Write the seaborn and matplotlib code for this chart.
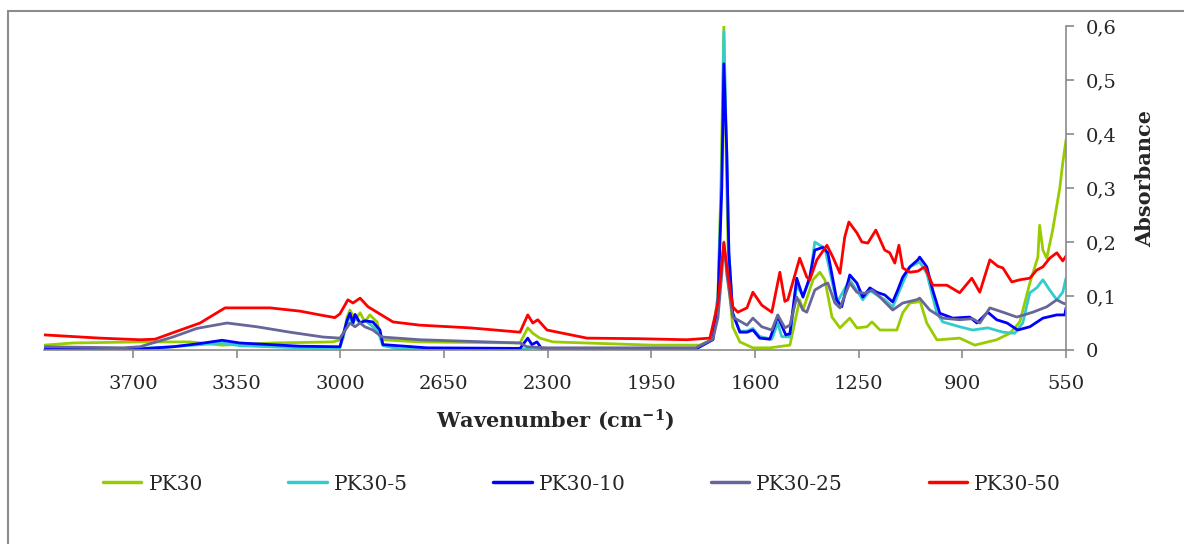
import numpy as np
import pandas as pd
import matplotlib
matplotlib.use("Agg")
import matplotlib.pyplot as plt
import seaborn as sns
from matplotlib.lines import Line2D
from matplotlib.patches import Rectangle

# ---------------- data ----------------
series_names = ["PK30", "PK30-5", "PK30-10", "PK30-25", "PK30-50"]
series_colors = ["#99CC00", "#33CCCC", "#0000FF", "#666699", "#FF0000"]

pk30_wn = [4000, 3902, 3676, 3507, 3399, 3227, 3025, 2991, 2977, 2967,
           2950, 2933, 2917, 2900, 2876, 2859, 2731, 2393, 2367, 2350,
           2326, 2282, 1945, 1786, 1746, 1725, 1715, 1705, 1697, 1688,
           1675, 1651, 1607, 1550, 1482, 1466, 1449, 1438, 1404, 1381,
           1364, 1340, 1313, 1280, 1256, 1222, 1205, 1178, 1121, 1101,
           1077, 1050, 1044, 1020, 986, 976, 909, 858, 784, 739,
           706, 672, 645, 639, 628, 615, 595, 571, 561, 550]
pk30_abs = [0.009, 0.013, 0.015, 0.015, 0.009, 0.013, 0.015, 0.02, 0.061, 0.074,
            0.056, 0.069, 0.052, 0.065, 0.052, 0.019, 0.015, 0.013, 0.041, 0.031,
            0.022, 0.015, 0.009, 0.009, 0.019, 0.10, 0.30, 0.60, 0.35, 0.12,
            0.043, 0.015, 0.004, 0.004, 0.009, 0.05, 0.093, 0.074, 0.13, 0.144,
            0.13, 0.061, 0.041, 0.059, 0.041, 0.043, 0.052, 0.037, 0.037, 0.069,
            0.087, 0.089, 0.093, 0.05, 0.019, 0.019, 0.022, 0.009, 0.019, 0.031,
            0.052, 0.124, 0.172, 0.231, 0.185, 0.17, 0.222, 0.30, 0.346, 0.389]

pk30_5_wn = [4000, 3676, 3565, 3399, 3339, 3136, 3001, 2977, 2967, 2957,
             2950, 2933, 2917, 2900, 2873, 2856, 2800, 2370, 2350, 2330,
             1800, 1742, 1725, 1712, 1705, 1697, 1688, 1675, 1651, 1627,
             1607, 1584, 1543, 1523, 1510, 1482, 1459, 1438, 1415, 1398,
             1381, 1364, 1324, 1280, 1236, 1212, 1162, 1135, 1101, 1077,
             1044, 1020, 986, 966, 909, 865, 814, 763, 723, 696,
             672, 649, 628, 605, 581, 561, 550]
pk30_5_abs = [0.002, 0.003, 0.006, 0.013, 0.008, 0.004, 0.004, 0.05, 0.062, 0.048,
              0.06, 0.05, 0.055, 0.048, 0.035, 0.008, 0.002, 0.002, 0.005, 0.002,
              0.001, 0.02, 0.1, 0.33, 0.59, 0.40, 0.18, 0.068, 0.035, 0.035,
              0.04, 0.025, 0.02, 0.05, 0.025, 0.024, 0.12, 0.1, 0.13, 0.2,
              0.194, 0.189, 0.087, 0.13, 0.093, 0.11, 0.093, 0.08, 0.124, 0.154,
              0.163, 0.142, 0.068, 0.052, 0.043, 0.037, 0.041, 0.033, 0.031, 0.05,
              0.106, 0.115, 0.13, 0.111, 0.093, 0.107, 0.133]

pk30_10_wn = [4000, 3676, 3565, 3473, 3399, 3339, 3136, 3001, 2977, 2967,
              2957, 2950, 2933, 2917, 2890, 2866, 2856, 2707, 2393, 2367,
              2353, 2336, 2319, 1800, 1742, 1725, 1712, 1705, 1695, 1688,
              1675, 1651, 1627, 1607, 1584, 1550, 1523, 1496, 1482, 1459,
              1438, 1415, 1398, 1371, 1354, 1324, 1307, 1280, 1256, 1236,
              1212, 1189, 1162, 1135, 1118, 1101, 1077, 1050, 1044, 1020,
              1000, 976, 932, 875, 851, 814, 784, 749, 713, 672,
              628, 581, 554, 550]
pk30_10_abs = [0.001, 0.002, 0.006, 0.012, 0.018, 0.013, 0.007, 0.006, 0.055, 0.068,
               0.05, 0.066, 0.05, 0.054, 0.052, 0.037, 0.01, 0.004, 0.003, 0.022,
               0.01, 0.015, 0.002, 0.002, 0.019, 0.087, 0.30, 0.53, 0.365, 0.18,
               0.068, 0.033, 0.033, 0.037, 0.022, 0.02, 0.062, 0.028, 0.03, 0.133,
               0.098, 0.135, 0.185, 0.19, 0.18, 0.093, 0.08, 0.139, 0.124, 0.098,
               0.115, 0.107, 0.102, 0.089, 0.111, 0.135, 0.154, 0.167, 0.172, 0.154,
               0.111, 0.068, 0.059, 0.061, 0.05, 0.07, 0.056, 0.05, 0.037, 0.043,
               0.059, 0.065, 0.065, 0.078]

pk30_25_wn = [4000, 3733, 3676, 3565, 3484, 3382, 3281, 3170, 3058, 3001,
              2967, 2950, 2933, 2917, 2890, 2859, 2731, 2393, 2370, 2302,
              1800, 1742, 1725, 1712, 1705, 1695, 1675, 1627, 1607, 1577,
              1543, 1523, 1499, 1482, 1459, 1438, 1425, 1398, 1371, 1354,
              1330, 1313, 1280, 1256, 1229, 1205, 1178, 1135, 1101, 1054,
              1044, 1010, 966, 909, 865, 841, 807, 763, 716, 662,
              615, 581, 561, 550]
pk30_25_abs = [0.006, 0.004, 0.006, 0.024, 0.04, 0.05, 0.043, 0.033, 0.024, 0.022,
               0.05, 0.043, 0.05, 0.043, 0.037, 0.024, 0.019, 0.013, 0.006, 0.004,
               0.004, 0.02, 0.06, 0.14, 0.20, 0.14, 0.061, 0.046, 0.059, 0.043,
               0.037, 0.065, 0.041, 0.046, 0.098, 0.074, 0.07, 0.111, 0.12, 0.124,
               0.087, 0.078, 0.124, 0.107, 0.105, 0.111, 0.098, 0.074, 0.087, 0.093,
               0.096, 0.074, 0.059, 0.056, 0.058, 0.05, 0.078, 0.07, 0.061, 0.07,
               0.08, 0.093, 0.087, 0.085]

pk30_50_wn = [4000, 3811, 3676, 3625, 3565, 3473, 3389, 3237, 3136, 3069,
              3018, 3001, 2974, 2957, 2933, 2906, 2873, 2822, 2731, 2562,
              2393, 2367, 2350, 2333, 2302, 2167, 1999, 1830, 1752, 1725,
              1712, 1705, 1692, 1675, 1658, 1627, 1607, 1577, 1543, 1516,
              1499, 1489, 1449, 1425, 1415, 1391, 1357, 1337, 1313, 1297,
              1283, 1256, 1239, 1219, 1192, 1162, 1145, 1128, 1114, 1101,
              1077, 1050, 1027, 1000, 952, 909, 868, 841, 807, 780,
              763, 733, 706, 672, 649, 628, 605, 581, 561, 550]
pk30_50_abs = [0.028, 0.022, 0.019, 0.02, 0.032, 0.05, 0.078, 0.078, 0.072, 0.065,
               0.06, 0.067, 0.093, 0.087, 0.096, 0.08, 0.069, 0.052, 0.046, 0.041,
               0.033, 0.065, 0.05, 0.056, 0.037, 0.022, 0.021, 0.019, 0.022, 0.087,
               0.16, 0.198, 0.142, 0.08, 0.07, 0.078, 0.107, 0.083, 0.07, 0.144,
               0.09, 0.093, 0.17, 0.135, 0.13, 0.167, 0.194, 0.172, 0.142, 0.209,
               0.237, 0.217, 0.2, 0.198, 0.222, 0.185, 0.18, 0.161, 0.194, 0.152,
               0.144, 0.146, 0.154, 0.12, 0.12, 0.106, 0.133, 0.107, 0.167, 0.155,
               0.152, 0.126, 0.13, 0.133, 0.148, 0.154, 0.170, 0.18, 0.165, 0.174]

x_ticks = [3700, 3350, 3000, 2650, 2300, 1950, 1600, 1250, 900, 550]
y_ticks = [0.0, 0.1, 0.2, 0.3, 0.4, 0.5, 0.6]
y_tick_labels = ["0", "0,1", "0,2", "0,3", "0,4", "0,5", "0,6"]
x_label = "Wavenumber (cm$^{\\mathbf{-1}}$)"
y_label = "Absorbance"

# ---------------- build table ----------------
wn_list = [pk30_wn, pk30_5_wn, pk30_10_wn, pk30_25_wn, pk30_50_wn]
abs_list = [pk30_abs, pk30_5_abs, pk30_10_abs, pk30_25_abs, pk30_50_abs]
frames = []
for name, w, a in zip(series_names, wn_list, abs_list):
    frames.append(pd.DataFrame({"wn": w, "abs": a, "sample": name}))
df = pd.concat(frames, ignore_index=True)

# ---------------- style ----------------
sns.set_style("white")
plt.rcParams["font.family"] = ["DejaVu Serif"]
plt.rcParams["mathtext.fontset"] = "dejavuserif"

W, H = 1184, 544
fig = plt.figure(figsize=(W / 100, H / 100), dpi=100)
fig.patch.set_facecolor("white")

left, right, top, bottom = 44, 1066, 26, 350
ax = fig.add_axes([left / W, (H - bottom) / H, (right - left) / W, (bottom - top) / H])

palette = dict(zip(series_names, series_colors))
sns.lineplot(data=df, x="wn", y="abs", hue="sample", hue_order=series_names,
             palette=palette, estimator=None, sort=False, linewidth=2.0,
             legend=False, ax=ax)

ax.set_xlim(4000, 550)
ax.set_ylim(0, 0.6)
ax.set_xticks(x_ticks)
ax.set_xticklabels([str(t) for t in x_ticks])
ax.set_yticks(y_ticks)
ax.set_yticklabels(y_tick_labels)

ax.yaxis.tick_right()
ax.yaxis.set_label_position("right")
for s in ["left", "top"]:
    ax.spines[s].set_visible(False)
for s in ["right", "bottom"]:
    ax.spines[s].set_color("#8a8a8a")
    ax.spines[s].set_linewidth(1.2)

ax.tick_params(axis="x", direction="out", length=6, width=1.2, color="#8a8a8a",
               labelsize=14, pad=12, bottom=True)
ax.tick_params(axis="y", direction="out", length=6, width=1.2, color="#8a8a8a",
               labelsize=14, pad=8, right=True, left=False)

ax.set_xlabel(x_label, fontsize=15, fontweight="bold", labelpad=10)
ax.set_ylabel(y_label, fontsize=15, fontweight="bold", labelpad=10)
ax.yaxis.set_label_coords(1.068, 0.53)
ax.grid(False)

# legend
handles = [Line2D([0], [0], color=c, lw=2.5) for c in series_colors]
fig.legend(handles, series_names, loc="center", bbox_to_anchor=(582 / W, 1 - 484 / H),
           ncol=5, frameon=False, fontsize=14.5, handlelength=1.9, handletextpad=0.35,
           columnspacing=4.25)

# outer frame
fig.patches.append(Rectangle((8 / W, -0.05), 1.2, 1 - 11 / H + 0.05,
                             transform=fig.transFigure, fill=False,
                             edgecolor="#8c8c8c", linewidth=1.5))

fig.savefig("out.png", dpi=100, facecolor="white")
